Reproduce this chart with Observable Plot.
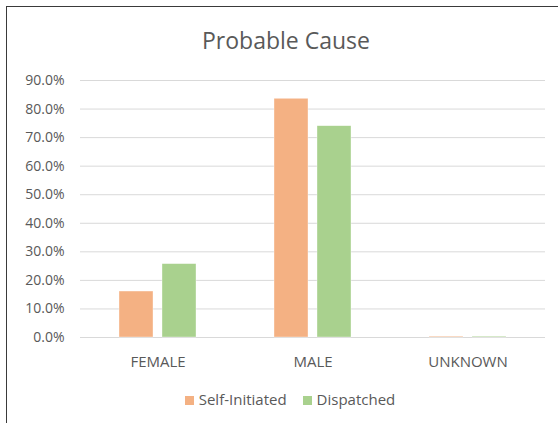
<!DOCTYPE html>
<html>
<head>
<meta charset="utf-8">
<script src="https://cdn.jsdelivr.net/npm/d3@7"></script>
<script src="https://cdn.jsdelivr.net/npm/@observablehq/plot@0.6"></script>
<style>
  html, body { margin: 0; padding: 0; background: #fff; }
  #wrap { position: relative; width: 558px; height: 423px; overflow: hidden; font-family: "Open Sans", sans-serif; color: #595959; }
  #frame { position: absolute; left: 6px; top: 6px; width: 600px; height: 500px; border: 1px solid #3a3a3a; box-sizing: border-box; }
  #title { position: absolute; left: 0; width: 572px; top: 24px; text-align: center; font-size: 23px; color: #595959; white-space: nowrap; }
  #chart { position: absolute; left: 0; top: 0; }
  #legend { position: absolute; top: 389px; left: 0; width: 580px; text-align: center; font-size: 15px; color: #595959; white-space: nowrap; }
  .sw { display: inline-block; width: 9px; height: 9px; margin-right: 5px; vertical-align: 0px; }
  .item { margin: 0 8px; }
</style>
</head>
<body>
<div id="wrap">
  <div id="frame"></div>
  <div id="title"></div>
  <div id="chart"></div>
  <div id="legend"></div>
</div>
<script>
const titleText = "Probable Cause";
const categories = ["FEMALE", "MALE", "UNKNOWN"];
const seriesNames = ["Self-Initiated", "Dispatched"];
const selfInitiated = [0.161, 0.836, 0.003];
const dispatched = [0.257, 0.740, 0.003];
const yTicks = [0, 0.1, 0.2, 0.3, 0.4, 0.5, 0.6, 0.7, 0.8, 0.9];
const colors = ["#F4B183", "#A9D18E"];

const data = [];
categories.forEach((c, i) => {
  data.push({category: c, series: seriesNames[0], value: selfInitiated[i]});
  data.push({category: c, series: seriesNames[1], value: dispatched[i]});
});

document.getElementById("title").textContent = titleText;

const chart = Plot.plot({
  width: 558,
  height: 380,
  marginLeft: 79,
  marginRight: 12,
  marginTop: 80,
  marginBottom: 43,
  style: {fontFamily: "Open Sans, sans-serif", fontSize: "14px", color: "#595959", background: "transparent"},
  fx: {domain: categories, padding: 0, label: null, tickSize: 0, tickPadding: 19, axis: "bottom"},
  x: {domain: seriesNames, paddingInner: 0.2045, paddingOuter: 0.872, axis: null},
  y: {domain: [0, 0.9], ticks: yTicks, tickFormat: d3.format(".1%"), tickSize: 0, tickPadding: 16, label: null},
  color: {domain: seriesNames, range: colors},
  marks: [
    Plot.ruleY(yTicks, {stroke: "#d9d9d9", strokeWidth: 1}),
    Plot.barY(data, {fx: "category", x: "series", y: "value", fill: "series", stroke: "#fff", strokeOpacity: 0.6, strokeWidth: 0.6})
  ]
});
chart.querySelectorAll("text").forEach(t => t.setAttribute("fill", "#595959"));
chart.querySelectorAll("[aria-label='fx-axis tick label'] text, [aria-label='fx-axis tick label']").forEach(g => g.setAttribute("font-size", "15px"));
document.getElementById("chart").appendChild(chart);

const legend = document.getElementById("legend");
seriesNames.forEach((s, i) => {
  const span = document.createElement("span");
  span.className = "item";
  const sw = document.createElement("span");
  sw.className = "sw";
  sw.style.background = colors[i];
  span.appendChild(sw);
  span.appendChild(document.createTextNode(s));
  legend.appendChild(span);
});
</script>
</body>
</html>
